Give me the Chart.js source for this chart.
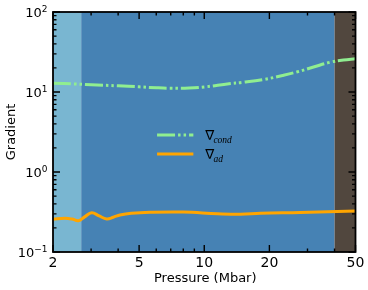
<!DOCTYPE html>
<html><head><meta charset="utf-8">
<script src="https://cdn.jsdelivr.net/npm/chart.js@4/dist/chart.umd.min.js"></script>
<style>html,body{margin:0;padding:0;background:#fff}#wrap{width:368px;height:290px}</style>
</head><body><div id="wrap"><canvas id="c" width="368" height="290"></canvas></div>
<script>
// ---- data ----
const pressureCond = [2, 2.5, 3, 4, 5, 6, 7, 8.5, 10, 13, 15, 19, 23, 27, 32, 38, 44, 50];
const gradCond     = [12.9, 12.6, 12.3, 11.95, 11.6, 11.3, 11.15, 11.2, 11.55, 12.7, 13.2, 14.4, 16.1, 17.9, 20.5, 23.5, 25.1, 26.0];
const pressureAd = [2.0, 2.27, 2.45, 2.62, 2.8, 3.02, 3.27, 3.54, 3.8, 4.08, 4.6, 5.62, 8.0, 11.5, 14.7, 18.2, 27.8, 50];
const gradAd     = [0.256, 0.264, 0.258, 0.246, 0.275, 0.31, 0.282, 0.259, 0.272, 0.29, 0.305, 0.314, 0.316, 0.301, 0.296, 0.305, 0.312, 0.326];
const xTickLabels = [2, 5, 10, 20, 50];
const xMinorTicks = [3, 4, 6, 7, 8, 9, 30, 40];
const yDecades = [0.1, 1, 10, 100];
const yExponents = ['\u22121', '0', '1', '2'];
const regionEdges = [2, 2.7, 40, 50];
const legendNames = ['cond', 'ad'];
const xTitle = 'Pressure (Mbar)';
const yTitle = 'Gradient';

const FONT = '"DejaVu Sans", sans-serif';

const decor = {
  id: 'decor',
  beforeDatasetsDraw(chart) {
    const {ctx, chartArea: a, scales: {x}} = chart;
    const cols = ['#79b6d1', '#4682b4', '#51473e'];
    ctx.save();
    for (let i = 0; i < 3; i++) {
      const x0 = x.getPixelForValue(regionEdges[i]);
      const x1 = x.getPixelForValue(regionEdges[i + 1]);
      ctx.fillStyle = cols[i];
      ctx.fillRect(x0, a.top, x1 - x0, a.bottom - a.top);
    }
    ctx.restore();
  },
  afterDraw(chart) {
    const {ctx, chartArea: a, scales: {x, y}} = chart;
    ctx.save();
    ctx.strokeStyle = '#000';
    ctx.fillStyle = '#000';
    ctx.lineWidth = 1.4;
    const L = 7, S = 3.5;
    ctx.beginPath();
    const xt = (v, len) => {
      const p = x.getPixelForValue(v);
      ctx.moveTo(p, a.bottom); ctx.lineTo(p, a.bottom - len);
      ctx.moveTo(p, a.top); ctx.lineTo(p, a.top + len);
    };
    xTickLabels.forEach(v => xt(v, L));
    xMinorTicks.forEach(v => xt(v, S));
    const yt = (v, len) => {
      const p = y.getPixelForValue(v);
      ctx.moveTo(a.left, p); ctx.lineTo(a.left + len, p);
      ctx.moveTo(a.right, p); ctx.lineTo(a.right - len, p);
    };
    yDecades.forEach((d, i) => {
      yt(d, L);
      if (i < yDecades.length - 1) for (let m = 2; m <= 9; m++) yt(d * m, S);
    });
    ctx.stroke();
    // frame
    ctx.lineWidth = 1.8;
    ctx.strokeRect(a.left, a.top, a.right - a.left, a.bottom - a.top);

    // x tick labels
    ctx.font = '14px ' + FONT;
    ctx.textAlign = 'center';
    ctx.textBaseline = 'alphabetic';
    xTickLabels.forEach(v => ctx.fillText(String(v), x.getPixelForValue(v), a.bottom + 14.7));
    // y tick labels 10^n
    yDecades.forEach((d, i) => {
      const p = y.getPixelForValue(d);
      const right = 47.5;
      ctx.textAlign = 'right';
      ctx.font = '9px ' + FONT;
      const ew = ctx.measureText(yExponents[i]).width;
      ctx.fillText(yExponents[i], right, p);
      ctx.font = '13px ' + FONT;
      ctx.fillText('10', right - ew, p + 5);
    });
    // axis titles
    ctx.font = '13px ' + FONT;
    ctx.textAlign = 'center';
    ctx.fillText(xTitle, (a.left + a.right) / 2 + 1, 281.5);
    ctx.save();
    ctx.translate(15, (a.top + a.bottom) / 2);
    ctx.rotate(-Math.PI / 2);
    ctx.fillText(yTitle, 0, 0);
    ctx.restore();

    // legend
    const w = a.right - a.left, h = a.bottom - a.top;
    const lx0 = a.left + 0.344 * w, lx1 = a.left + 0.464 * w;
    const rows = [a.top + 0.5125 * h, a.top + 0.5917 * h];
    const ds = chart.data.datasets;
    rows.forEach((ry, i) => {
      ctx.save();
      ctx.strokeStyle = ds[i].borderColor;
      ctx.lineWidth = ds[i].borderWidth;
      ctx.setLineDash(ds[i].borderDash || []);
      ctx.beginPath(); ctx.moveTo(lx0, ry); ctx.lineTo(lx1, ry); ctx.stroke();
      ctx.restore();
      ctx.fillStyle = '#000';
      ctx.textAlign = 'left';
      ctx.font = '13.5px ' + FONT;
      const tx = lx1 + 12;
      ctx.fillText('\u2207', tx, ry + 5);
      const nw = ctx.measureText('\u2207').width;
      ctx.font = 'italic 9.5px "Liberation Serif", serif';
      ctx.fillText(legendNames[i], tx + nw - 1, ry + 8);
    });
    ctx.restore();
  }
};

new Chart(document.getElementById('c'), {
  type: 'line',
  data: {
    datasets: [
      {
        label: 'cond',
        data: pressureCond.map((p, i) => ({x: p, y: gradCond[i]})),
        borderColor: '#90ee90',
        borderWidth: 3,
        borderDash: [18, 3, 2.5, 3, 2.5, 3],
        pointRadius: 0,
        tension: 0.4,
        fill: false
      },
      {
        label: 'ad',
        data: pressureAd.map((p, i) => ({x: p, y: gradAd[i]})),
        borderColor: '#ffa500',
        borderWidth: 3,
        pointRadius: 0,
        tension: 0.4,
        fill: false
      }
    ]
  },
  options: {
    responsive: false,
    animation: false,
    devicePixelRatio: 1,
    layout: {padding: {top: 12, right: 12.5, left: 0, bottom: 0}},
    plugins: {legend: {display: false}, tooltip: {enabled: false}},
    scales: {
      x: {
        type: 'logarithmic', min: 2, max: 50,
        grid: {display: false, drawTicks: false},
        border: {display: false},
        ticks: {display: false},
        afterFit: s => { s.height = 38; }
      },
      y: {
        type: 'logarithmic', min: 0.1, max: 100,
        grid: {display: false, drawTicks: false},
        border: {display: false},
        ticks: {display: false},
        afterFit: s => { s.width = 53; }
      }
    }
  },
  plugins: [decor]
});
</script>
</body></html>
